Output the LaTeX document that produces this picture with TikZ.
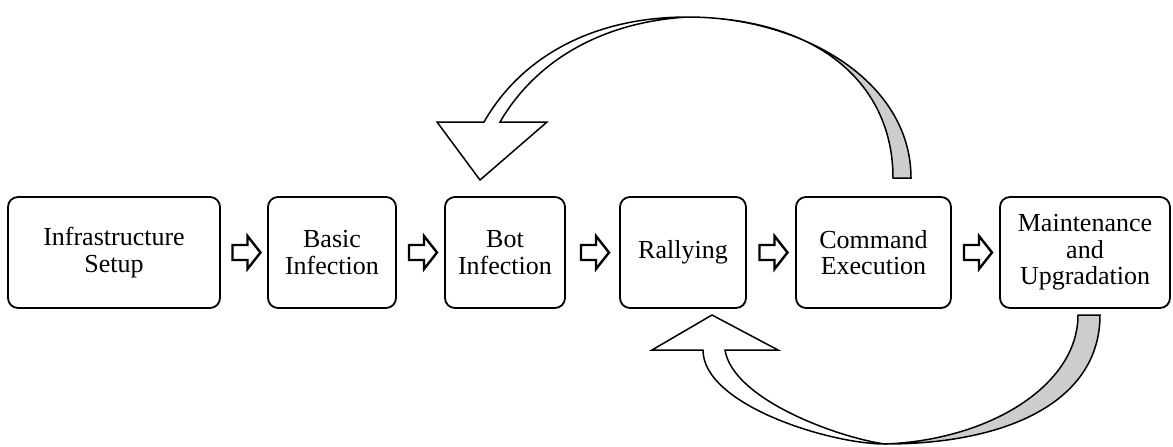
\documentclass[tikz,border=0pt]{standalone}
\usepackage{fontspec}
\setmainfont{Liberation Serif}
\newfontfamily\stagefont{Liberation Serif}
\usetikzlibrary{calc}
\definecolor{bandgray}{RGB}{205,205,205}
\tikzset{
  stage/.style={draw, line width=0.9pt, rounded corners=5pt, align=center,
    font=\stagefont\fontsize{13}{13.3}\selectfont, inner sep=0pt, minimum height=55.5pt},
  blk/.pic={\draw[line width=1.2pt, fill=white, line join=miter]
    (-13,-7.5) -- (2,-7.5) -- (2,-16.5) -- (15,0) -- (2,16.5) -- (2,7.5) -- (-13,7.5) -- cycle;},
  band/.style={draw, line width=0.75pt, line join=miter},
}
\begin{document}
\begin{tikzpicture}[x=0.5pt,y=-0.5pt]
\useasboundingbox (0,0) rectangle (1173,446);

% curved block arrows
\draw[band, fill=bandgray] (911,178) .. controls (911,80) and (800,17) .. (688,17)
   .. controls (820,18) and (893,85) .. (893,178) -- cycle;
\draw[band, fill=white] (688,17) .. controls (590,17) and (520,59) .. (484,122)
   -- (437,122) -- (480,180) -- (547,122) -- (500,122)
   .. controls (535,62) and (600,22) .. (688,17) -- cycle;

\draw[band, fill=bandgray] (1100,315) .. controls (1100,400) and (1010,444) .. (885,444)
   .. controls (990,440) and (1078,385) .. (1078,315) -- cycle;
\draw[band, fill=white] (885,444) .. controls (830,444) and (703,405) .. (703,350)
   -- (652,350) -- (712,315) -- (778,350) -- (725,350)
   .. controls (733,400) and (840,438) .. (885,444) -- cycle;

% stages
\node[stage, minimum width=106pt] (b1) at (114,252.5) {Infrastructure\\Setup};
\node[stage, minimum width=64pt]  (b2) at (332,252.5) {Basic\\Infection};
\node[stage, minimum width=60pt]  (b3) at (505,252.5) {Bot\\Infection};
\node[stage, minimum width=63pt]  (b4) at (683,252.5) {Rallying};
\node[stage, minimum width=77.5pt] (b5) at (873.5,252.5) {Command\\Execution};
\node[stage, minimum width=85pt]  (b6) at (1085,252.5) {Maintenance\\and\\Upgradation};

% small block arrows between stages
\foreach \a/\b in {b1/b2,b2/b3,b3/b4,b4/b5,b5/b6}{
  \path ($(\a.east)!0.5!(\b.west)$) coordinate (m\a);
  \pic at ([xshift=0.75pt]m\a) {blk};
}
\end{tikzpicture}
\end{document}
